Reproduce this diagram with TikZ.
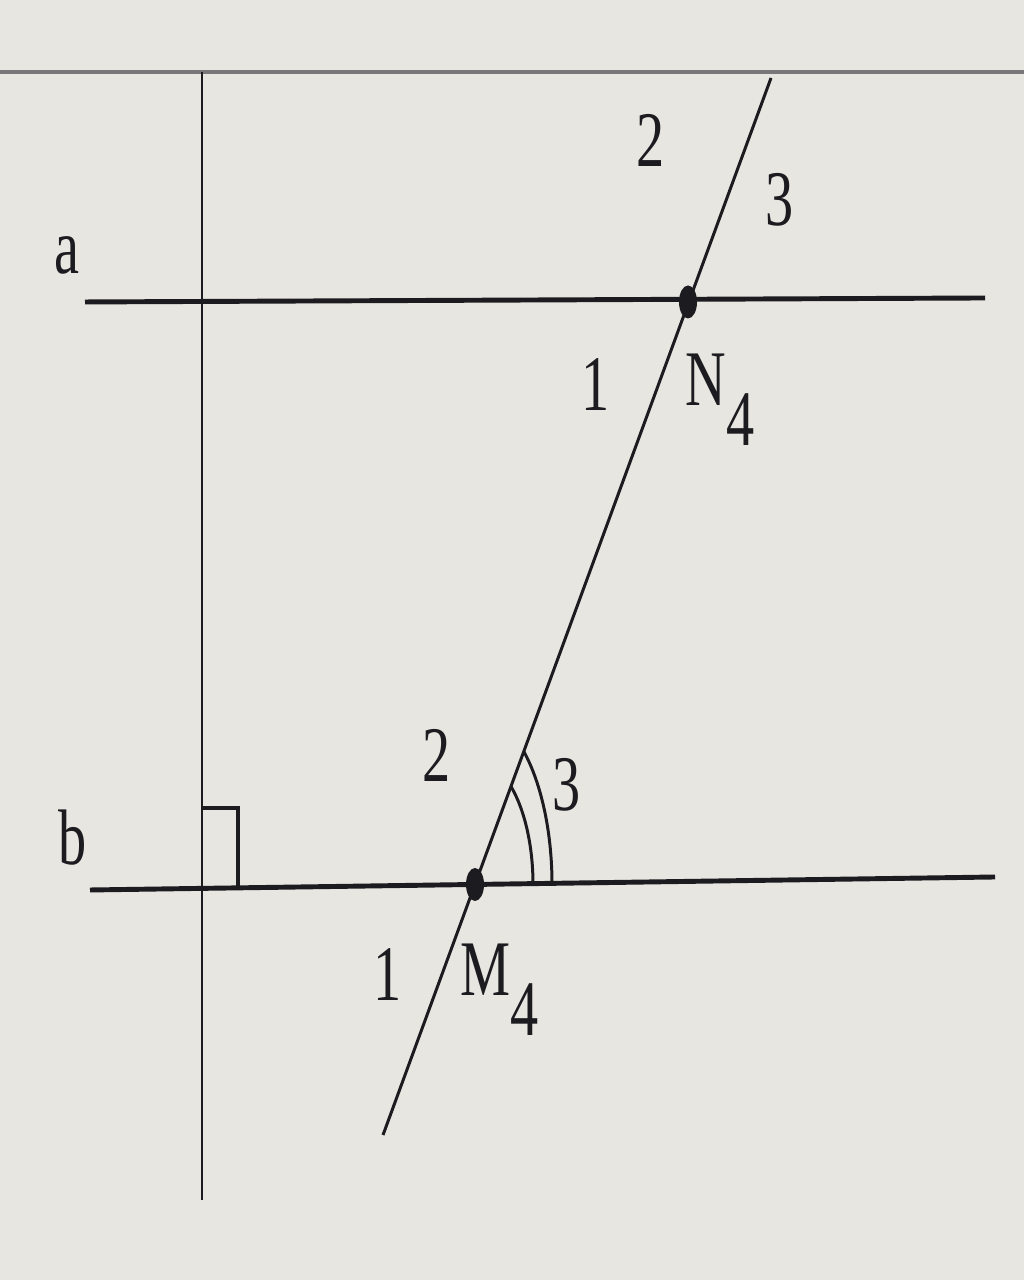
\documentclass[tikz,border=0pt]{standalone}
\usepackage{fontspec}
\setmainfont{Liberation Serif}
\definecolor{paper}{RGB}{232,230,225}
\definecolor{ink}{RGB}{28,28,32}
\definecolor{rule}{RGB}{120,120,122}
\begin{document}
\begin{tikzpicture}[
    lbl/.style={font=\rmfamily\fontsize{16}{19}\selectfont, yscale=1.4, text=ink, inner sep=0pt},
    thin line/.style={draw=ink, line width=0.85pt},
    main line/.style={draw=ink, line width=1.4pt}]
  \fill[paper] (0,0) rectangle (10.24,12.8);
  \useasboundingbox (0,0) rectangle (10.24,12.8);
  % points
  \def \Points{
    topL/0/12.08,
    topR/10.24/12.08,
    vT/2.02/12.08,
    vB/2.02/0.80,
    aL/0.85/9.78,
    aR/9.85/9.82,
    bL/0.90/3.90,
    bR/9.95/4.03,
    tB/3.83/1.45,
    tT/7.71/12.02,
    N/6.88/9.78,
    M/4.75/3.955}
  \foreach \id / \x / \y in \Points{
    \coordinate (\id) at (\x, \y);
  }
  % lines
  \draw[rule, line width=1.1pt] (topL) -- (topR);
  \path[thin line] (vT) -- (vB);
  \path[main line] (aL) -- (aR);
  \path[main line] (bL) -- (bR);
  \path[thin line] (tB) -- (tT);
  % right angle
  \draw[ink, line width=1pt] (2.02,4.72) -| (2.38,3.93);
  % double arc
  \draw[ink, line width=0.85pt] (M) ++(0.58,0)
    arc[start angle=0, end angle=51.7, x radius=0.58, y radius=1.25];
  \draw[ink, line width=0.85pt] (M) ++(0.77,0)
    arc[start angle=0, end angle=50.7, x radius=0.77, y radius=1.72];
  % dots
  \fill[ink] (N) ellipse [x radius=0.09, y radius=0.165];
  \fill[ink] (M) ellipse [x radius=0.09, y radius=0.165];
  % labels
  \def \Labels{
    la/0.67/10.25/a,
    lb/0.73/4.42/b,
    nTwo/6.51/11.40/2,
    nThree/7.80/10.80/3,
    nOne/5.96/8.95/1,
    nName/7.20/8.80/{N\raisebox{-1.1ex}{4}},
    mTwo/4.37/5.25/2,
    mThree/5.67/4.95/3,
    mOne/3.88/3.05/1,
    mName/5.00/2.90/{M\raisebox{-1.1ex}{4}}}
  \foreach \id / \x / \y / \t in \Labels{
    \node[lbl] (\id) at (\x, \y) {\t};
  }
\end{tikzpicture}
\end{document}
